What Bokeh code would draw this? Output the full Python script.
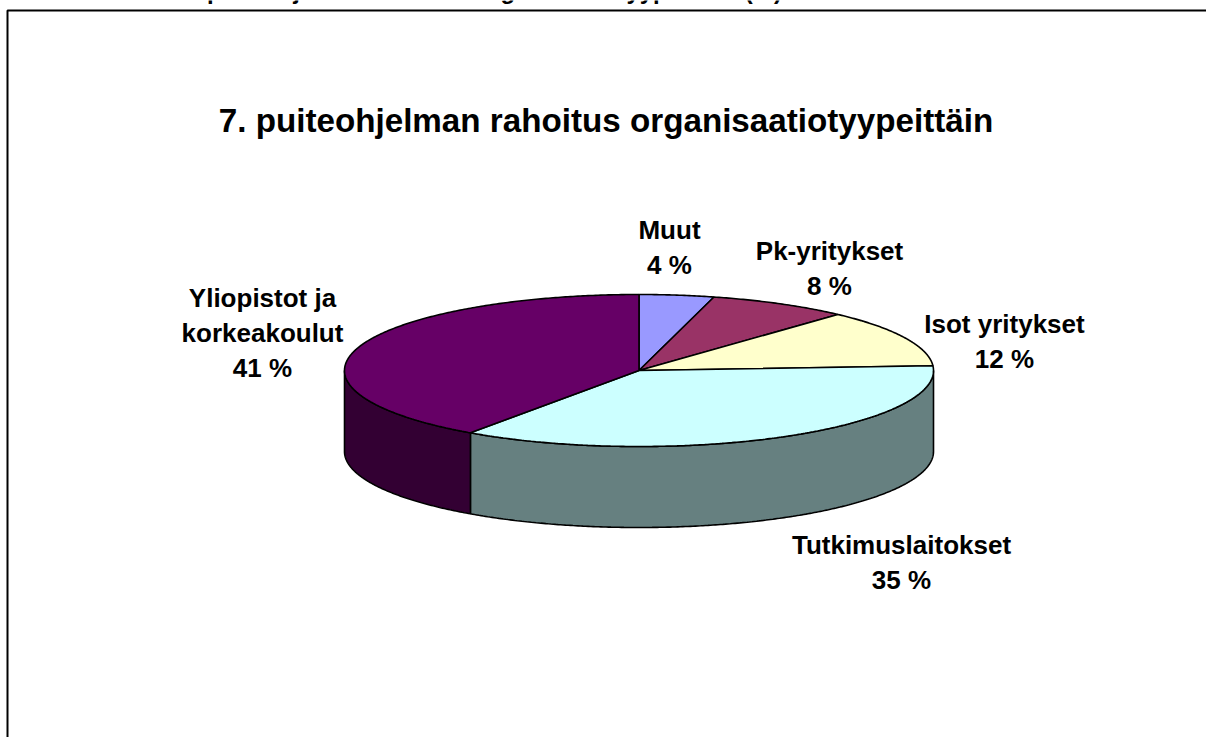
from math import sin, cos, radians
from bokeh.plotting import figure
from bokeh.models import Range1d
from bokeh.embed import file_html
from bokeh.resources import INLINE
from bokeh.core.properties import value

categories = ["Muut", "Pk-yritykset", "Isot yritykset", "Tutkimuslaitokset", "Yliopistot ja korkeakoulut"]
shares = [4.1, 7.7, 12.2, 35.7, 40.3]
percent_labels = ["4 %", "8 %", "12 %", "35 %", "41 %"]
top_colors = ["#9999FF", "#993366", "#FFFFCC", "#CCFFFF", "#660066"]
side_colors = ["#4C4C80", "#4C1933", "#808066", "#668080", "#330033"]
title_text = "7. puiteohjelman rahoitus organisaatiotyypeittäin"
clipped_heading = "7. puiteohjelman rahoitus organisaatiotyypeittäin (%)"

CX, CY, RX, RY, DEPTH = 638.5, 370.0, 294.5, 76.0, 81.0
FONT = value("Liberation Sans")

p = figure(width=1206, height=737, output_backend="svg", toolbar_location=None,
           x_range=Range1d(0, 1206), y_range=Range1d(737, 0), min_border=0,
           outline_line_color=None, background_fill_color="white", border_fill_color="white",
           margin=(0, 0, 0, 0))
p.axis.visible = False
p.grid.visible = False


def arc(a0, a1, dy=0.0):
    n = max(2, int(abs(a1 - a0) * 2) + 2)
    angs = [a0 + (a1 - a0) * i / (n - 1) for i in range(n)]
    return ([CX + RX * sin(radians(a)) for a in angs],
            [CY + dy - RY * cos(radians(a)) for a in angs])


total = sum(shares)
starts, c = [], 0.0
for s in shares:
    starts.append(c)
    c += s * 360.0 / total
ends = starts[1:] + [360.0]

# frame running off the page to the right and bottom
p.line([7, 7, 1206], [737, 10, 10], line_color="black", line_width=2)

# side walls (front half only)
for a0, a1, col in zip(starts, ends, side_colors):
    lo, hi = max(a0, 90.0), min(a1, 270.0)
    if hi <= lo:
        continue
    xt, yt = arc(lo, hi)
    xb, yb = arc(hi, lo, DEPTH)
    p.patch(xt + xb, yt + yb, fill_color=col, line_color="black", line_width=1.6)

# top faces
for a0, a1, col in zip(starts, ends, top_colors):
    xa, ya = arc(a0, a1)
    p.patch([CX] + xa, [CY] + ya, fill_color=col, line_color="black", line_width=1.6)

# data labels
label_lines = [
    [categories[0], percent_labels[0]],
    [categories[1], percent_labels[1]],
    [categories[2], percent_labels[2]],
    [categories[3], percent_labels[3]],
    ["Yliopistot ja", "korkeakoulut", percent_labels[4]],
]
label_anchor = [(669, 229), (829, 250), (1004, 323), (901, 544), (262, 297)]
LINE = 35
for lines, (lx, ly) in zip(label_lines, label_anchor):
    for i, t in enumerate(lines):
        p.text([lx], [ly + i * LINE], text=[t], text_font=FONT, text_font_style="bold",
               text_font_size="26px", text_color="black", text_align="center",
               text_baseline="middle")

# chart title
p.text([605.5], [120], text=[title_text], text_font=FONT, text_font_style="bold",
       text_font_size="33.2px", text_color="black", text_align="center", text_baseline="middle")

# page heading cut by the top of the picture
p.text([180], [0], text=[clipped_heading], text_font=FONT, text_font_style="bold",
       text_font_size="23.9px", text_color="black", text_align="left", text_baseline="alphabetic",
       y_offset=-10)

open("out.html", "w").write(file_html(p, INLINE))
